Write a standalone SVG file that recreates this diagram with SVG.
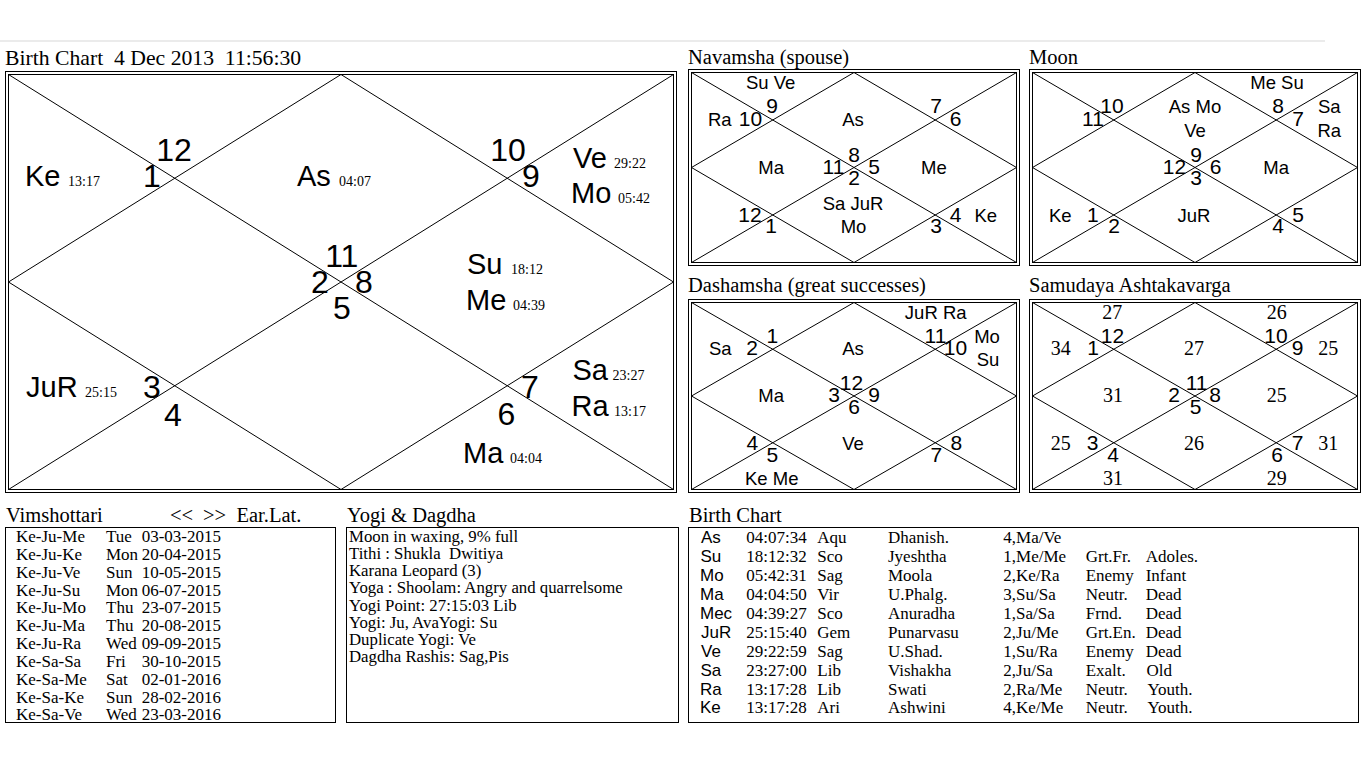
<svg xmlns="http://www.w3.org/2000/svg" width="1366" height="768" viewBox="0 0 1366 768">
<style>
.bg{fill:#fff}
.ln{stroke:#000;stroke-width:1;fill:none}
.bx{stroke:#000;stroke-width:1;fill:none}
.ti{font-family:"Liberation Serif","Times New Roman",serif;font-size:20.5px;fill:#000}
.tm{font-size:21.7px}
.pl{font-family:"Liberation Sans",Arial,sans-serif;font-size:29px;fill:#000}
.hn{font-family:"Liberation Sans",Arial,sans-serif;font-size:32px;fill:#000;text-anchor:middle}
.dg{font-family:"Liberation Serif","Times New Roman",serif;font-size:14px;fill:#000}
.sp{font-family:"Liberation Sans",Arial,sans-serif;font-size:18.5px;fill:#000}
.spm{font-family:"Liberation Sans",Arial,sans-serif;font-size:18.5px;fill:#000;text-anchor:middle}
.sn{font-family:"Liberation Sans",Arial,sans-serif;font-size:21px;fill:#000;text-anchor:middle}
.av{font-family:"Liberation Serif","Times New Roman",serif;font-size:20px;fill:#000;text-anchor:middle}
.tb{font-family:"Liberation Serif","Times New Roman",serif;font-size:17px;fill:#000}
.ty{font-family:"Liberation Serif","Times New Roman",serif;font-size:16.8px;fill:#000}
.tbe{font-family:"Liberation Serif","Times New Roman",serif;font-size:17px;fill:#000;text-anchor:end}
.ta{font-family:"Liberation Sans",Arial,sans-serif;font-size:17px;fill:#000}
</style>
<rect class="bg" x="0" y="0" width="1366" height="768"/>
<line x1="0" y1="41" x2="1325" y2="41" stroke="#ebebeb" stroke-width="2"/>

<!-- Main Birth Chart -->
<g id="main-chart">
<text class="ti tm" x="5" y="65" xml:space="preserve">Birth Chart  4 Dec 2013  11:56:30</text>
<rect class="bx" x="5.5" y="71.5" width="671" height="421"/>
<rect class="bx" x="8.5" y="74.5" width="665" height="415"/>
<g id="main-lines">
<line class="ln" x1="8.5" y1="74.5" x2="673.5" y2="489.5"/>
<line class="ln" x1="673.5" y1="74.5" x2="8.5" y2="489.5"/>
<polygon class="ln" points="341,74.5 673.5,282 341,489.5 8.5,282"/>
</g>
<text class="hn" x="174" y="161">12</text>
<text class="hn" x="152" y="187">1</text>
<text class="hn" x="508" y="161">10</text>
<text class="hn" x="531" y="187">9</text>
<text class="hn" x="341.8" y="267">11</text>
<text class="hn" x="320" y="293">2</text>
<text class="hn" x="364" y="293">8</text>
<text class="hn" x="342" y="319">5</text>
<text class="hn" x="152" y="398">3</text>
<text class="hn" x="173" y="426">4</text>
<text class="hn" x="530" y="398">7</text>
<text class="hn" x="506.5" y="425">6</text>
<text class="pl" x="25" y="186">Ke</text><text class="dg" x="68" y="186">13:17</text>
<text class="pl" x="297" y="186">As</text><text class="dg" x="339" y="186">04:07</text>
<text class="pl" x="573" y="168">Ve</text><text class="dg" x="614" y="168">29:22</text>
<text class="pl" x="571" y="203">Mo</text><text class="dg" x="618" y="203">05:42</text>
<text class="pl" x="467" y="274">Su</text><text class="dg" x="511" y="274">18:12</text>
<text class="pl" x="466" y="309.5">Me</text><text class="dg" x="513" y="309.5">04:39</text>
<text class="pl" x="26" y="397">JuR</text><text class="dg" x="85" y="397">25:15</text>
<text class="pl" x="572.5" y="380">Sa</text><text class="dg" x="612.5" y="380">23:27</text>
<text class="pl" x="571.5" y="416">Ra</text><text class="dg" x="614" y="416">13:17</text>
<text class="pl" x="463" y="463">Ma</text><text class="dg" x="510" y="463">04:04</text>
</g>

<!-- Navamsha -->
<g id="navamsha">
<text class="ti" x="688" y="64">Navamsha (spouse)</text>
<rect class="bx" x="688.5" y="69.5" width="331" height="196"/>
<rect class="bx" x="691.5" y="72.5" width="325" height="190"/>
<line class="ln" x1="691.5" y1="72.5" x2="1016.5" y2="262.5"/>
<line class="ln" x1="1016.5" y1="72.5" x2="691.5" y2="262.5"/>
<polygon class="ln" points="854,72.5 1016.5,167.5 854,262.5 691.5,167.5"/>
<text class="spm" x="770.7" y="89.3">Su Ve</text>
<text class="sn" x="772" y="113.3">9</text>
<text class="sp" x="708" y="126">Ra</text>
<text class="sn" x="750.5" y="126">10</text>
<text class="spm" x="853" y="126">As</text>
<text class="sn" x="936" y="113.3">7</text>
<text class="sn" x="955.5" y="126">6</text>
<text class="sn" x="854" y="161.7">8</text>
<text class="sp" x="758.3" y="174.3">Ma</text>
<text class="sn" x="833.5" y="174.3">11</text>
<text class="sn" x="874" y="174.3">5</text>
<text class="sp" x="921" y="174.3">Me</text>
<text class="sn" x="854" y="185">2</text>
<text class="spm" x="853" y="210">Sa JuR</text>
<text class="spm" x="853.5" y="233.3">Mo</text>
<text class="sn" x="750" y="221.7">12</text>
<text class="sn" x="771" y="233.3">1</text>
<text class="sn" x="936" y="233.3">3</text>
<text class="sn" x="955.5" y="221.7">4</text>
<text class="sp" x="974.5" y="221.7">Ke</text>
</g>

<!-- Moon -->
<g id="moon">
<text class="ti" x="1029" y="64">Moon</text>
<rect class="bx" x="1029.5" y="69.5" width="331" height="196"/>
<rect class="bx" x="1032.5" y="72.5" width="325" height="190"/>
<line class="ln" x1="1032.5" y1="72.5" x2="1357.5" y2="262.5"/>
<line class="ln" x1="1357.5" y1="72.5" x2="1032.5" y2="262.5"/>
<polygon class="ln" points="1195,72.5 1357.5,167.5 1195,262.5 1032.5,167.5"/>
<text class="spm" x="1277" y="89.3">Me Su</text>
<text class="sn" x="1112" y="113.3">10</text>
<text class="sn" x="1093" y="126">11</text>
<text class="spm" x="1195" y="113.3">As Mo</text>
<text class="spm" x="1195" y="136.7">Ve</text>
<text class="sn" x="1278" y="113.3">8</text>
<text class="sn" x="1298" y="126">7</text>
<text class="sp" x="1318" y="113.3">Sa</text>
<text class="sp" x="1317.5" y="136.7">Ra</text>
<text class="sn" x="1196" y="161.7">9</text>
<text class="sn" x="1174.5" y="174.3">12</text>
<text class="sn" x="1215.5" y="174.3">6</text>
<text class="sp" x="1263.3" y="174.3">Ma</text>
<text class="sn" x="1196" y="185">3</text>
<text class="sp" x="1049" y="221.7">Ke</text>
<text class="sn" x="1092.8" y="221.7">1</text>
<text class="sn" x="1114" y="233.3">2</text>
<text class="spm" x="1194" y="221.7">JuR</text>
<text class="sn" x="1278" y="233.3">4</text>
<text class="sn" x="1298" y="221.7">5</text>
</g>

<!-- Dashamsha -->
<g id="dashamsha">
<text class="ti" x="688" y="292">Dashamsha (great successes)</text>
<rect class="bx" x="688.5" y="299.5" width="331" height="193"/>
<rect class="bx" x="691.5" y="302.5" width="325" height="187"/>
<line class="ln" x1="691.5" y1="302.5" x2="1016.5" y2="489.5"/>
<line class="ln" x1="1016.5" y1="302.5" x2="691.5" y2="489.5"/>
<polygon class="ln" points="854,302.5 1016.5,396 854,489.5 691.5,396"/>
<text class="spm" x="935.7" y="318.7">JuR Ra</text>
<text class="sn" x="772.3" y="343">1</text>
<text class="sp" x="709" y="354.7">Sa</text>
<text class="sn" x="752" y="354.7">2</text>
<text class="spm" x="853" y="354.7">As</text>
<text class="sn" x="935.5" y="343">11</text>
<text class="sn" x="955.5" y="355">10</text>
<text class="spm" x="987" y="343">Mo</text>
<text class="spm" x="988" y="366.3">Su</text>
<text class="sn" x="851.5" y="390.3">12</text>
<text class="sp" x="758.3" y="402">Ma</text>
<text class="sn" x="834" y="402">3</text>
<text class="sn" x="874" y="402">9</text>
<text class="sn" x="854" y="413.7">6</text>
<text class="sn" x="752.3" y="450.3">4</text>
<text class="sn" x="772.3" y="462">5</text>
<text class="spm" x="853" y="450.3">Ve</text>
<text class="sn" x="936.3" y="462">7</text>
<text class="sn" x="956.3" y="450.3">8</text>
<text class="spm" x="771.7" y="485.3">Ke Me</text>
</g>

<!-- Samudaya Ashtakavarga -->
<g id="samudaya">
<text class="ti" x="1029" y="292">Samudaya Ashtakavarga</text>
<rect class="bx" x="1029.5" y="299.5" width="331" height="193"/>
<rect class="bx" x="1032.5" y="302.5" width="325" height="187"/>
<line class="ln" x1="1032.5" y1="302.5" x2="1357.5" y2="489.5"/>
<line class="ln" x1="1357.5" y1="302.5" x2="1032.5" y2="489.5"/>
<polygon class="ln" points="1195,302.5 1357.5,396 1195,489.5 1032.5,396"/>
<text class="av" x="1112.3" y="318.7">27</text>
<text class="av" x="1276.7" y="318.7">26</text>
<text class="av" x="1060.7" y="354.7">34</text>
<text class="av" x="1194" y="354.7">27</text>
<text class="av" x="1328.3" y="354.7">25</text>
<text class="av" x="1113" y="402">31</text>
<text class="av" x="1276.7" y="402">25</text>
<text class="av" x="1060.7" y="450.3">25</text>
<text class="av" x="1194" y="450.3">26</text>
<text class="av" x="1328.3" y="450.3">31</text>
<text class="av" x="1113" y="485.3">31</text>
<text class="av" x="1276.7" y="485.3">29</text>
<text class="sn" x="1112.5" y="343">12</text>
<text class="sn" x="1276" y="343">10</text>
<text class="sn" x="1093" y="354.7">1</text>
<text class="sn" x="1297.5" y="354.7">9</text>
<text class="sn" x="1196.6" y="390.3">11</text>
<text class="sn" x="1174" y="402">2</text>
<text class="sn" x="1215" y="402">8</text>
<text class="sn" x="1195.5" y="413.7">5</text>
<text class="sn" x="1092.5" y="450.3">3</text>
<text class="sn" x="1113" y="462">4</text>
<text class="sn" x="1297.5" y="450.3">7</text>
<text class="sn" x="1277" y="462">6</text>
</g>

<!-- Vimshottari -->
<g id="vimshottari">
<text class="ti" x="6" y="521.7">Vimshottari</text>
<text class="ti" x="170" y="521.7">&lt;&lt;</text>
<text class="ti" x="203" y="521.7">&gt;&gt;</text>
<text class="ti" x="236.5" y="521.7">Ear.Lat.</text>
<rect class="bx" x="5.5" y="527.5" width="330" height="195"/>
<text class="tb" x="16" y="542">Ke-Ju-Me</text><text class="tb" x="106" y="542">Tue</text><text class="tbe" x="221" y="542">03-03-2015</text>
<text class="tb" x="16" y="559.8">Ke-Ju-Ke</text><text class="tb" x="106" y="559.8">Mon</text><text class="tbe" x="221" y="559.8">20-04-2015</text>
<text class="tb" x="16" y="577.7">Ke-Ju-Ve</text><text class="tb" x="106" y="577.7">Sun</text><text class="tbe" x="221" y="577.7">10-05-2015</text>
<text class="tb" x="16" y="595.5">Ke-Ju-Su</text><text class="tb" x="106" y="595.5">Mon</text><text class="tbe" x="221" y="595.5">06-07-2015</text>
<text class="tb" x="16" y="613.3">Ke-Ju-Mo</text><text class="tb" x="106" y="613.3">Thu</text><text class="tbe" x="221" y="613.3">23-07-2015</text>
<text class="tb" x="16" y="631.2">Ke-Ju-Ma</text><text class="tb" x="106" y="631.2">Thu</text><text class="tbe" x="221" y="631.2">20-08-2015</text>
<text class="tb" x="16" y="649">Ke-Ju-Ra</text><text class="tb" x="106" y="649">Wed</text><text class="tbe" x="221" y="649">09-09-2015</text>
<text class="tb" x="16" y="666.8">Ke-Sa-Sa</text><text class="tb" x="106" y="666.8">Fri</text><text class="tbe" x="221" y="666.8">30-10-2015</text>
<text class="tb" x="16" y="684.6">Ke-Sa-Me</text><text class="tb" x="106" y="684.6">Sat</text><text class="tbe" x="221" y="684.6">02-01-2016</text>
<text class="tb" x="16" y="702.5">Ke-Sa-Ke</text><text class="tb" x="106" y="702.5">Sun</text><text class="tbe" x="221" y="702.5">28-02-2016</text>
<text class="tb" x="16" y="720.3">Ke-Sa-Ve</text><text class="tb" x="106" y="720.3">Wed</text><text class="tbe" x="221" y="720.3">23-03-2016</text>
</g>

<!-- Yogi & Dagdha -->
<g id="yogi-dagdha">
<text class="ti" x="347" y="521.7">Yogi &amp; Dagdha</text>
<rect class="bx" x="346.5" y="527.5" width="332" height="195"/>
<text class="ty" x="349" y="541.7">Moon in waxing, 9% full</text>
<text class="ty" x="349" y="558.9" xml:space="preserve">Tithi : Shukla  Dwitiya</text>
<text class="ty" x="349" y="576.2">Karana Leopard (3)</text>
<text class="ty" x="349" y="593.4">Yoga : Shoolam: Angry and quarrelsome</text>
<text class="ty" x="349" y="610.6">Yogi Point: 27:15:03 Lib</text>
<text class="ty" x="349" y="627.9">Yogi: Ju, AvaYogi: Su</text>
<text class="ty" x="349" y="645.1">Duplicate Yogi: Ve</text>
<text class="ty" x="349" y="662.3">Dagdha Rashis: Sag,Pis</text>
</g>

<!-- Birth Chart table -->
<g id="birth-table">
<text class="ti" x="689" y="521.7">Birth Chart</text>
<rect class="bx" x="688.5" y="527.5" width="670" height="195"/>
<g id="row-as"><text class="ta" x="701" y="543.3">As</text><text class="tb" x="746.3" y="543.3">04:07:34</text><text class="tb" x="817.3" y="543.3">Aqu</text><text class="tb" x="888" y="543.3">Dhanish.</text><text class="tb" x="1003.3" y="543.3">4,Ma/Ve</text></g>
<g id="row-su"><text class="ta" x="700.5" y="562.2">Su</text><text class="tb" x="746.3" y="562.2">18:12:32</text><text class="tb" x="817.3" y="562.2">Sco</text><text class="tb" x="888" y="562.2">Jyeshtha</text><text class="tb" x="1003.3" y="562.2">1,Me/Me</text><text class="tb" x="1085.7" y="562.2">Grt.Fr.</text><text class="tb" x="1145.7" y="562.2">Adoles.</text></g>
<g id="row-mo"><text class="ta" x="700" y="581.1">Mo</text><text class="tb" x="746.3" y="581.1">05:42:31</text><text class="tb" x="817.3" y="581.1">Sag</text><text class="tb" x="888" y="581.1">Moola</text><text class="tb" x="1003.3" y="581.1">2,Ke/Ra</text><text class="tb" x="1085.7" y="581.1">Enemy</text><text class="tb" x="1145.7" y="581.1">Infant</text></g>
<g id="row-ma"><text class="ta" x="700" y="600">Ma</text><text class="tb" x="746.3" y="600">04:04:50</text><text class="tb" x="817.3" y="600">Vir</text><text class="tb" x="888" y="600">U.Phalg.</text><text class="tb" x="1003.3" y="600">3,Su/Sa</text><text class="tb" x="1085.7" y="600">Neutr.</text><text class="tb" x="1145.7" y="600">Dead</text></g>
<g id="row-mec"><text class="ta" x="700" y="618.9">Mec</text><text class="tb" x="746.3" y="618.9">04:39:27</text><text class="tb" x="817.3" y="618.9">Sco</text><text class="tb" x="888" y="618.9">Anuradha</text><text class="tb" x="1003.3" y="618.9">1,Sa/Sa</text><text class="tb" x="1085.7" y="618.9">Frnd.</text><text class="tb" x="1145.7" y="618.9">Dead</text></g>
<g id="row-jur"><text class="ta" x="701" y="637.8">JuR</text><text class="tb" x="746.3" y="637.8">25:15:40</text><text class="tb" x="817.3" y="637.8">Gem</text><text class="tb" x="888" y="637.8">Punarvasu</text><text class="tb" x="1003.3" y="637.8">2,Ju/Me</text><text class="tb" x="1085.7" y="637.8">Grt.En.</text><text class="tb" x="1145.7" y="637.8">Dead</text></g>
<g id="row-ve"><text class="ta" x="701" y="656.7">Ve</text><text class="tb" x="746.3" y="656.7">29:22:59</text><text class="tb" x="817.3" y="656.7">Sag</text><text class="tb" x="888" y="656.7">U.Shad.</text><text class="tb" x="1003.3" y="656.7">1,Su/Ra</text><text class="tb" x="1085.7" y="656.7">Enemy</text><text class="tb" x="1145.7" y="656.7">Dead</text></g>
<g id="row-sa"><text class="ta" x="700.5" y="675.6">Sa</text><text class="tb" x="746.3" y="675.6">23:27:00</text><text class="tb" x="817.3" y="675.6">Lib</text><text class="tb" x="888" y="675.6">Vishakha</text><text class="tb" x="1003.3" y="675.6">2,Ju/Sa</text><text class="tb" x="1085.7" y="675.6">Exalt.</text><text class="tb" x="1146.5" y="675.6">Old</text></g>
<g id="row-ra"><text class="ta" x="700" y="694.5">Ra</text><text class="tb" x="746.3" y="694.5">13:17:28</text><text class="tb" x="817.3" y="694.5">Lib</text><text class="tb" x="888" y="694.5">Swati</text><text class="tb" x="1003.3" y="694.5">2,Ra/Me</text><text class="tb" x="1085.7" y="694.5">Neutr.</text><text class="tb" x="1147.5" y="694.5">Youth.</text></g>
<g id="row-ke"><text class="ta" x="700" y="713.3">Ke</text><text class="tb" x="746.3" y="713.3">13:17:28</text><text class="tb" x="817.3" y="713.3">Ari</text><text class="tb" x="888" y="713.3">Ashwini</text><text class="tb" x="1003.3" y="713.3">4,Ke/Me</text><text class="tb" x="1085.7" y="713.3">Neutr.</text><text class="tb" x="1147.5" y="713.3">Youth.</text></g>
</g>
</svg>
